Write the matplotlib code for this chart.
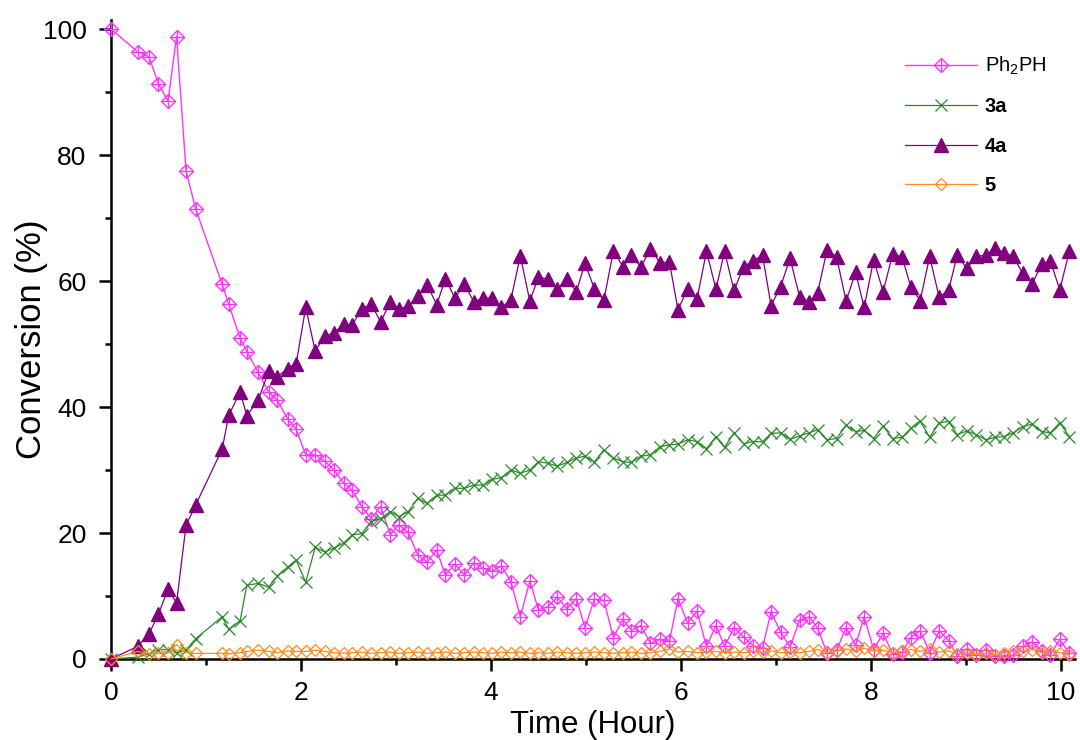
import matplotlib
matplotlib.use("Agg")
import matplotlib.pyplot as plt
from matplotlib.ticker import MultipleLocator
from matplotlib.legend_handler import HandlerTuple

plt.rcParams['font.family'] = ['Liberation Sans', 'DejaVu Sans']

time_h = [0, 0.28, 0.40, 0.50, 0.60, 0.69, 0.79, 0.89, 1.17, 1.24,
          1.36, 1.43, 1.55, 1.66, 1.75, 1.86, 1.95, 2.05, 2.15,
          2.25, 2.35, 2.45, 2.54, 2.64, 2.74, 2.84, 2.94, 3.03, 3.13,
          3.23, 3.33, 3.43, 3.52, 3.62, 3.72, 3.82, 3.92, 4.01, 4.11,
          4.21, 4.31, 4.41, 4.50, 4.60, 4.70, 4.80, 4.90, 4.99, 5.09,
          5.19, 5.29, 5.39, 5.48, 5.58, 5.68, 5.78, 5.88, 5.97, 6.07,
          6.17, 6.27, 6.37, 6.46, 6.56, 6.66, 6.76, 6.86, 6.95, 7.05,
          7.15, 7.25, 7.35, 7.44, 7.54, 7.64, 7.74, 7.84, 7.93, 8.03,
          8.13, 8.23, 8.33, 8.42, 8.52, 8.62, 8.72, 8.82, 8.91, 9.01,
          9.11, 9.21, 9.31, 9.40, 9.50, 9.60, 9.70, 9.80, 9.89, 9.99,
          10.09]

ph2ph = [100, 96.4, 95.6, 91.3, 88.5, 98.8, 77.5, 71.5, 59.5, 56.3,
         50.9, 48.8, 45.5, 42.4, 41.1, 38.1, 36.5, 32.4, 32.4,
         31.4, 30.0, 27.9, 26.8, 24.2, 22.3, 24.2, 19.7, 21.3, 20.1,
         16.5, 15.4, 17.3, 13.3, 15.1, 13.3, 15.3, 14.4, 13.9, 14.8,
         12.3, 6.7, 12.4, 7.8, 8.3, 9.8, 8.0, 9.6, 5.0, 9.5,
         9.3, 3.4, 6.3, 4.5, 5.3, 2.5, 3.1, 2.8, 9.6, 5.7,
         7.6, 2.0, 5.3, 2.0, 5.0, 3.5, 2.1, 1.8, 7.5, 4.3,
         1.9, 6.2, 6.7, 4.9, 0.9, 1.4, 5.0, 2.2, 6.7, 1.5,
         4.1, 0.8, 1.1, 3.4, 4.5, 1.0, 4.5, 2.9, 0.5, 1.6,
         0.6, 1.5, 0.4, 0.5, 0.6, 2.0, 2.7, 1.3, 0.7, 3.1,
         0.9]

conv_3a = [0, 0.3, 0.8, 1.5, 1.5, 1.0, 1.4, 3.2, 6.7, 4.7,
           6.1, 11.7, 12.0, 11.4, 13.2, 14.6, 15.7, 12.2, 17.7,
           17.0, 17.6, 18.4, 19.7, 19.9, 21.8, 22.3, 23.4, 22.6, 23.4,
           25.5, 24.7, 26.0, 26.0, 27.1, 27.1, 27.6, 27.6, 28.5, 28.8,
           30.0, 29.5, 30.0, 31.3, 31.1, 30.6, 31.2, 31.9, 32.2, 31.3,
           33.2, 31.9, 31.3, 31.2, 32.2, 32.4, 33.7, 34.0, 34.1, 34.8,
           34.5, 33.4, 35.3, 33.6, 35.9, 34.2, 34.5, 34.5, 35.8, 35.9,
           34.9, 35.4, 35.9, 36.4, 34.8, 35.0, 37.1, 36.1, 36.3, 35.0,
           37.0, 35.0, 35.2, 36.6, 37.8, 35.2, 37.5, 37.7, 35.6, 36.2,
           35.6, 34.8, 35.2, 35.3, 35.9, 36.9, 37.3, 36.1, 35.9, 37.5,
           35.3]

conv_4a = [0, 2.0, 4.0, 7.1, 11.1, 8.9, 21.2, 24.4, 33.3, 38.7,
           42.4, 38.6, 41.1, 45.7, 44.8, 46.1, 46.9, 55.8, 48.9,
           51.2, 51.8, 53.2, 53.0, 55.6, 56.3, 53.5, 56.7, 55.6, 56.0,
           57.6, 59.4, 56.2, 60.4, 57.3, 59.5, 56.7, 57.3, 57.3, 55.8,
           57.0, 64.0, 56.8, 60.6, 60.3, 58.8, 60.3, 58.3, 62.8, 58.8,
           57.0, 64.8, 62.3, 64.1, 62.2, 65.1, 62.9, 63.0, 55.4, 58.8,
           57.1, 64.7, 58.7, 64.7, 58.5, 62.3, 63.2, 64.1, 56.1, 59.1,
           63.6, 57.5, 56.7, 58.1, 65.0, 63.8, 56.8, 61.4, 55.8, 63.4,
           58.3, 64.3, 63.8, 59.1, 56.9, 63.9, 57.4, 58.6, 64.1, 62.0,
           63.9, 64.1, 65.3, 64.5, 63.9, 61.2, 59.6, 62.7, 63.2, 58.6,
           64.7]

conv_5 = [0, 1.2, 0.8, 0.9, 0.9, 2.3, 1.0, 0.9, 0.9, 0.8,
          1.0, 1.2, 1.4, 1.2, 1.0, 1.3, 1.2, 1.2, 1.4,
          1.2, 1.0, 0.9, 1.0, 1.1, 0.9, 1.0, 1.1, 0.9, 1.0,
          1.1, 0.9, 1.0, 1.1, 0.9, 1.0, 1.1, 1.0, 0.9, 1.1,
          1.0, 1.1, 0.9, 1.0, 0.9, 1.1, 1.0, 0.9, 1.0, 1.1,
          1.0, 0.9, 1.0, 1.1, 0.9, 1.0, 1.2, 1.6, 1.1, 1.2,
          1.0, 1.1, 1.2, 1.0, 1.1, 1.0, 1.2, 1.1, 1.3, 1.0,
          1.1, 1.0, 1.2, 1.5, 1.0, 1.3, 1.6, 1.2, 1.7, 1.3,
          1.4, 1.0, 1.2, 1.5, 1.2, 1.6, 1.1, 1.3, 0.8, 1.0,
          0.7, 0.9, 0.7, 1.0, 1.2, 1.3, 1.5, 1.0, 1.3, 1.0,
          0.6]

labels = ['Ph$_\\mathregular{2}$PH', '3a', '4a', '5']
x_label = 'Time (Hour)'
y_label = 'Conversion (%)'

c_ph = '#ff33ff'
c_3a = '#2a8a2a'
c_4a = '#800080'
c_5 = '#ff8c1a'

fig = plt.figure(figsize=(10.8, 7.4), dpi=100)
ax = fig.add_axes([111 / 1080, 1 - 659 / 740, 964 / 1080, 639.4 / 740])

l_ph, = ax.plot(time_h, ph2ph, color=c_ph, lw=1.0, marker='D', ms=7.0,
                mfc='none', mec=c_ph, mew=1.0, clip_on=False, zorder=3)
l_ph2, = ax.plot(time_h, ph2ph, color=c_ph, lw=0, marker='+', ms=9.5,
                 mec=c_ph, mew=0.9, clip_on=False, zorder=3)
l_3a, = ax.plot(time_h, conv_3a, color=c_3a, lw=0.9, marker='x', ms=8.5,
                mec=c_3a, mew=0.9, clip_on=False, zorder=4)
l_4a, = ax.plot(time_h, conv_4a, color=c_4a, lw=0.9, marker='^', ms=10,
                mfc=c_4a, mec=c_4a, clip_on=False, zorder=5)
l_5, = ax.plot(time_h, conv_5, color=c_5, lw=0.9, marker='D', ms=6.3,
               mfc='none', mec=c_5, mew=0.9, clip_on=False, zorder=6)

ax.set_xlim(0, 10.15)
ax.set_ylim(0, 101.5)
ax.xaxis.set_major_locator(MultipleLocator(2))
ax.xaxis.set_minor_locator(MultipleLocator(1))
ax.set_yticks([0, 20, 40, 60, 80, 100])
ax.yaxis.set_minor_locator(MultipleLocator(10))

for s in ['top', 'right']:
    ax.spines[s].set_visible(False)
for s in ['left', 'bottom']:
    ax.spines[s].set_linewidth(1.8)

ax.tick_params(which='major', direction='out', length=8.6, width=1.8,
               labelsize=19)
ax.tick_params(axis='x', which='major', pad=7)
ax.tick_params(axis='y', which='major', pad=9)
ax.tick_params(which='minor', direction='out', length=4.3, width=1.8)

ax.set_xlabel(x_label, fontsize=22.5, labelpad=4)
ax.set_ylabel(y_label, fontsize=25, labelpad=-4)

leg = ax.legend([(l_ph, l_ph2), l_3a, l_4a, l_5], labels,
                handler_map={tuple: HandlerTuple()},
                loc='upper left', bbox_to_anchor=(905 / 1080, 1 - 55 / 740),
                bbox_transform=fig.transFigure, frameon=False,
                borderpad=0, borderaxespad=0, handlelength=3.6,
                handletextpad=0.35, labelspacing=1.0, fontsize=14.5)
for i, txt in enumerate(leg.get_texts()):
    if i > 0:
        txt.set_fontweight('bold')

fig.savefig('out.png', dpi=100)
